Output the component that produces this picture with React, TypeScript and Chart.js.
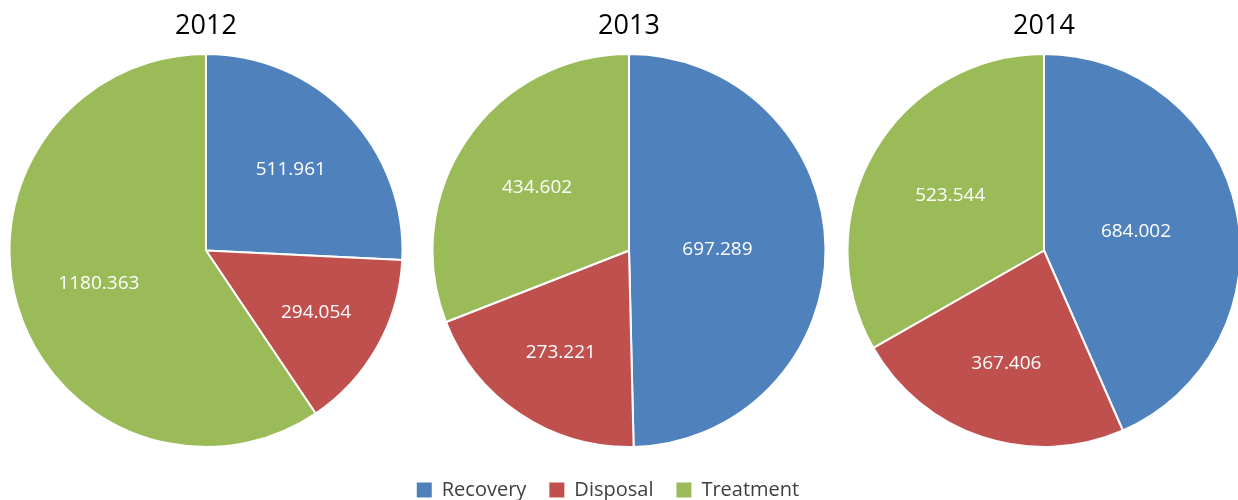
import React, { useEffect, useRef } from "react";
import { Chart, registerables } from "chart.js";

Chart.register(...registerables);

const categories = ["Recovery", "Disposal", "Treatment"];
const years = ["2012", "2013", "2014"];
const values2012 = [511.961, 294.054, 1180.363];
const values2013 = [697.289, 273.221, 434.602];
const values2014 = [684.002, 367.406, 523.544];
const colors = ["#4F81BD", "#C0504D", "#9BBB59"];

const FONT = "'Open Sans', 'DejaVu Sans', sans-serif";

const labelPlugin = {
  id: "sliceLabels",
  afterDatasetsDraw(chart: any) {
    const meta = chart.getDatasetMeta(0);
    if (!meta || meta.hidden) return;
    const ds = chart.data.datasets[0];
    const ctx = chart.ctx;
    ctx.save();
    ctx.font = `19px ${FONT}`;
    ctx.fillStyle = "#ffffff";
    ctx.textAlign = "center";
    ctx.textBaseline = "middle";
    meta.data.forEach((arc: any, i: number) => {
      const { x, y, startAngle, endAngle, outerRadius } = arc.getProps(
        ["x", "y", "startAngle", "endAngle", "outerRadius"],
        true
      );
      const sweep = endAngle - startAngle;
      const centroid = (4 * Math.sin(sweep / 2)) / (3 * sweep);
      const f = sweep > Math.PI ? 0.57 : Math.min(0.66, Math.max(0.45, centroid));
      const mid = (startAngle + endAngle) / 2;
      const r = outerRadius * f;
      ctx.fillText(Number(ds.data[i]).toFixed(3), x + r * Math.cos(mid), y + r * Math.sin(mid));
    });
    ctx.restore();
  },
};

function PieChart({ year, values, left }: { year: string; values: number[]; left: number }) {
  const ref = useRef<HTMLCanvasElement | null>(null);
  useEffect(() => {
    const chart = new Chart(ref.current as HTMLCanvasElement, {
      type: "pie",
      data: {
        labels: categories,
        datasets: [
          {
            data: values,
            backgroundColor: colors,
            borderColor: "#ffffff",
            borderWidth: 2,
            hoverOffset: 0,
          },
        ],
      },
      options: {
        responsive: false,
        animation: false,
        layout: { padding: 0 },
        plugins: {
          legend: { display: false },
          tooltip: { enabled: false },
          title: {
            display: true,
            text: year,
            color: "#000000",
            font: { family: FONT, size: 27, weight: "normal", lineHeight: 1.2 },
            padding: { top: 10, bottom: 10.6 },
          },
        },
      } as any,
      plugins: [labelPlugin],
    });
    return () => chart.destroy();
  }, []);
  return (
    <canvas
      ref={ref}
      width={400}
      height={448}
      style={{ position: "absolute", left, top: 0 }}
    />
  );
}

function LegendChart() {
  const ref = useRef<HTMLCanvasElement | null>(null);
  useEffect(() => {
    const chart = new Chart(ref.current as HTMLCanvasElement, {
      type: "pie",
      data: {
        labels: categories,
        datasets: [
          {
            data: [1, 1, 1],
            backgroundColor: colors,
            borderWidth: 0,
            hidden: true,
          },
        ],
      },
      options: {
        responsive: false,
        animation: false,
        plugins: {
          tooltip: { enabled: false },
          title: { display: false },
          legend: {
            display: true,
            position: "top",
            maxHeight: 100,
            labels: {
              boxWidth: 15,
              boxHeight: 15,
              padding: 23,
              color: "#404040",
              font: { family: FONT, size: 20 },
            },
          },
        },
      } as any,
    });
    return () => chart.destroy();
  }, []);
  return (
    <canvas
      ref={ref}
      width={640}
      height={200}
      style={{ position: "absolute", left: 288, top: 457 }}
    />
  );
}

export default function App() {
  return (
    <div
      style={{
        position: "fixed",
        left: 0,
        top: 0,
        width: 1238,
        height: 500,
        overflow: "hidden",
        background: "#ffffff",
      }}
    >
      <PieChart year={years[0]} values={values2012} left={6} />
      <PieChart year={years[1]} values={values2013} left={429} />
      <PieChart year={years[2]} values={values2014} left={844} />
      <LegendChart />
    </div>
  );
}
